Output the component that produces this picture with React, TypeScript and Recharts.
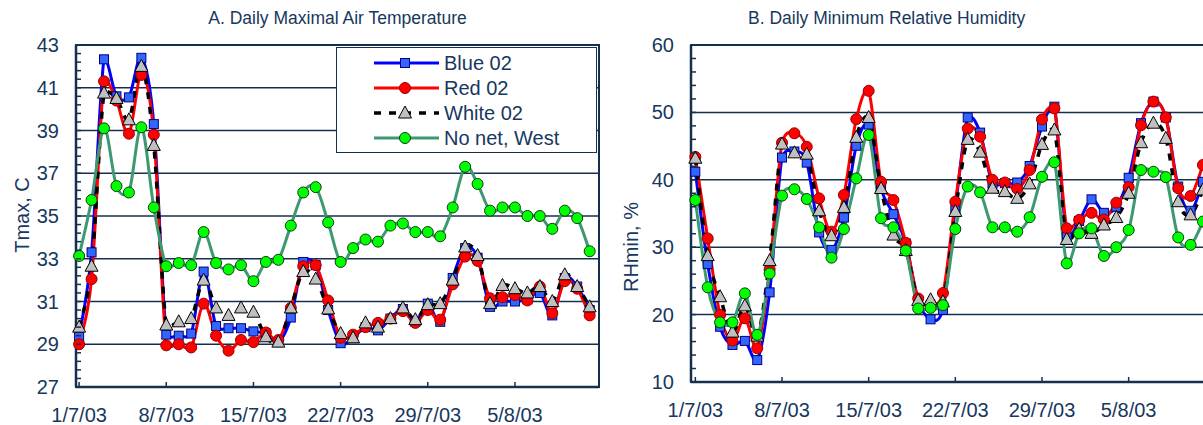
import React from "react";
import { CartesianGrid, Legend, Line, LineChart, ReferenceArea, XAxis, YAxis } from "recharts";

// days since 1 July 2003, one reading per day
const tickDays = [0, 7, 14, 21, 28, 35];
const tickLabels = ["1/7/03", "8/7/03", "15/7/03", "22/7/03", "29/7/03", "5/8/03"];

// A. daily maximal air temperature, C
const tmaxBlue = [29.35, 33.3, 42.33, 40.6, 40.55, 42.4, 39.3, 29.45, 29.4, 29.5, 32.4, 29.85, 29.75, 29.75, 29.6, 29.5, 29.1, 30.25, 32.85, 32.7, 30.6, 29.05, 29.3, 29.8, 29.65, 30.2, 30.65, 30.05, 30.9, 30.05, 32.1, 33.5, 33.05, 30.75, 31.0, 31.0, 31.1, 31.4, 30.35, 32.1, 31.7, 30.6];
const tmaxRed = [29.0, 32.05, 41.3, 40.4, 38.85, 41.6, 38.8, 28.95, 29.0, 28.85, 30.9, 29.4, 28.7, 29.2, 29.1, 29.55, 29.2, 30.7, 32.65, 32.7, 31.05, 29.3, 29.45, 29.8, 30.0, 30.2, 30.55, 30.0, 30.6, 30.15, 31.8, 33.1, 32.9, 31.15, 31.2, 31.3, 31.05, 31.7, 30.45, 31.95, 31.6, 30.35];
const tmaxWhite = [29.8, 32.65, 40.75, 40.5, 39.5, 42.0, 38.3, 29.9, 30.05, 30.2, 32.0, 30.7, 30.35, 30.7, 30.5, 29.35, 29.1, 30.7, 32.4, 32.05, 30.65, 29.5, 29.3, 30.0, 29.8, 30.2, 30.7, 30.15, 30.85, 30.9, 32.0, 33.55, 33.15, 30.9, 31.75, 31.6, 31.4, 31.7, 31.0, 32.25, 31.7, 30.75];
const tmaxNoNet = [33.13, 35.75, 39.1, 36.4, 36.1, 39.15, 35.4, 32.65, 32.8, 32.7, 34.25, 32.8, 32.5, 32.7, 31.95, 32.85, 32.95, 34.55, 36.1, 36.35, 34.7, 32.85, 33.5, 33.9, 33.8, 34.55, 34.65, 34.25, 34.25, 34.05, 35.4, 37.3, 36.5, 35.25, 35.4, 35.4, 35.0, 35.0, 34.4, 35.25, 34.9, 33.35];

// B. daily minimum relative humidity, %
const rhBlue = [41.2, 27.5, 18.2, 15.5, 16.1, 13.25, 23.3, 43.3, 44.2, 42.55, 32.2, 29.6, 34.4, 45.05, 48.2, 38.7, 34.9, 30.55, 22.15, 19.3, 20.7, 35.8, 49.25, 47.0, 39.4, 39.5, 39.6, 42.05, 47.9, 50.85, 31.5, 33.9, 37.1, 35.1, 36.0, 40.3, 48.4, 51.6, 49.25, 39.0, 35.4, 39.7];
const rhRed = [43.4, 31.3, 19.95, 16.15, 19.45, 15.0, 26.7, 45.5, 46.9, 44.9, 37.25, 32.3, 37.75, 49.0, 53.2, 39.7, 37.0, 30.65, 22.4, 21.6, 23.2, 36.75, 47.6, 46.4, 40.0, 39.6, 38.65, 41.45, 48.95, 50.6, 32.8, 34.05, 35.1, 34.1, 36.6, 38.9, 48.1, 51.6, 49.25, 38.75, 37.6, 42.2];
const rhWhite = [43.2, 28.75, 22.65, 17.4, 21.3, 16.8, 28.0, 45.3, 44.0, 43.8, 35.4, 31.7, 35.9, 46.3, 49.25, 38.7, 31.8, 29.5, 22.1, 22.2, 21.9, 35.3, 46.0, 44.1, 38.75, 38.25, 37.25, 39.4, 45.25, 47.4, 31.15, 32.65, 32.05, 33.3, 34.4, 38.0, 45.5, 48.4, 46.15, 36.75, 34.8, 38.5];
const rhNoNet = [37.0, 24.05, 18.85, 18.85, 23.15, 17.0, 26.1, 37.65, 38.6, 37.15, 32.95, 28.45, 32.7, 40.2, 46.65, 34.3, 32.95, 29.5, 20.9, 21.0, 21.4, 32.7, 39.0, 38.15, 32.95, 32.95, 32.3, 34.45, 40.45, 42.6, 27.6, 32.05, 32.8, 28.7, 30.0, 32.55, 41.45, 41.2, 40.4, 31.45, 30.35, 33.8];

const tmaxTicks = Array.from({ length: 41 }, (_, i) => Math.round((27 + i * 0.4) * 10) / 10);
const tmaxMajor = [27, 29, 31, 33, 35, 37, 39, 41, 43];
const rhTicks = Array.from({ length: 26 }, (_, i) => 10 + i * 2);
const rhMajor = [10, 20, 30, 40, 50, 60];

const NAVY = "#17375e";
const AXIS = "#14304f";
const FONT = "'Liberation Sans', Arial, sans-serif";

const tmaxData = tmaxBlue.map((v, i) => ({ day: i, blue: v, red: tmaxRed[i], white: tmaxWhite[i], nonet: tmaxNoNet[i] }));
const rhData = rhBlue.map((v, i) => ({ day: i, blue: v, red: rhRed[i], white: rhWhite[i], nonet: rhNoNet[i] }));

// Excel-like smoothed line (Catmull-Rom, control points kept near the segment)
const clamp = (v: number, a: number, b: number) => Math.max(Math.min(a, b) - 4, Math.min(Math.max(a, b) + 4, v));

const excelCurve: any = (context: any) => {
  let pts: number[][] = [];
  return {
    areaStart() {},
    areaEnd() {},
    lineStart() {
      pts = [];
    },
    point(x: number, y: number) {
      pts.push([+x, +y]);
    },
    lineEnd() {
      const n = pts.length;
      if (!n) return;
      context.moveTo(pts[0][0], pts[0][1]);
      for (let i = 0; i < n - 1; i++) {
        const p0 = pts[Math.max(i - 1, 0)];
        const p1 = pts[i];
        const p2 = pts[i + 1];
        const p3 = pts[Math.min(i + 2, n - 1)];
        context.bezierCurveTo(
          p1[0] + (p2[0] - p0[0]) / 6,
          clamp(p1[1] + (p2[1] - p0[1]) / 6, p1[1], p2[1]),
          p2[0] - (p3[0] - p1[0]) / 6,
          clamp(p2[1] - (p3[1] - p1[1]) / 6, p1[1], p2[1]),
          p2[0],
          p2[1]
        );
      }
    },
  };
};

type Marker = "square" | "circle" | "triangle" | "dot";

const drawMarker = (kind: Marker, cx: number, cy: number, key?: any) => {
  if (kind === "square")
    return <rect key={key} x={cx - 4.5} y={cy - 4.5} width={9} height={9} fill="#3366ff" stroke="#000080" strokeWidth={1} />;
  if (kind === "circle")
    return <circle key={key} cx={cx} cy={cy} r={5.5} fill="#ff0000" stroke="#990000" strokeWidth={1} />;
  if (kind === "triangle")
    return (
      <polygon
        key={key}
        points={`${cx},${cy - 7} ${cx - 6.5},${cy + 5} ${cx + 6.5},${cy + 5}`}
        fill="#c0c0c0"
        stroke="#000000"
        strokeWidth={1}
      />
    );
  return <circle key={key} cx={cx} cy={cy} r={5.5} fill="#00ff00" stroke="#0b3d0b" strokeWidth={1} />;
};

const series = [
  { key: "blue", name: "Blue 02", color: "#0000ff", width: 3, dash: undefined, marker: "square" as Marker },
  { key: "red", name: "Red 02", color: "#ff0000", width: 3, dash: undefined, marker: "circle" as Marker },
  { key: "white", name: "White 02", color: "#000000", width: 3.5, dash: "7 8", marker: "triangle" as Marker },
  { key: "nonet", name: "No net, West", color: "#3d9970", width: 3, dash: undefined, marker: "dot" as Marker },
];

const YTick = ({ x, y, payload, major }: any) => {
  const v = payload.value;
  const isMajor = major.some((m: number) => Math.abs(m - v) < 1e-6);
  return (
    <g>
      <line x1={x} x2={x + 5} y1={y} y2={y} stroke={AXIS} strokeWidth={1.5} />
      {isMajor && (
        <text x={x - 17} y={y} dy="0.35em" textAnchor="end" fill={NAVY} fontSize={20} fontFamily={FONT}>
          {v}
        </text>
      )}
    </g>
  );
};

const XTick = ({ x, y, payload }: any) => {
  const idx = tickDays.indexOf(payload.value);
  return (
    <g>
      <line x1={x} x2={x} y1={y} y2={y - 5} stroke={AXIS} strokeWidth={1.5} />
      <text x={x} y={y + 35} textAnchor="middle" fill={NAVY} fontSize={20} fontFamily={FONT}>
        {tickLabels[idx]}
      </text>
    </g>
  );
};

const LegendBox = () => (
  <div
    style={{
      width: 261,
      height: 106,
      boxSizing: "border-box",
      border: `1.5px solid ${AXIS}`,
      background: "#ffffff",
      position: "relative",
    }}
  >
    <svg width={258} height={103} style={{ position: "absolute", left: 0, top: 0 }}>
      {series.map((s, i) => {
        const cy = 15 + i * 25;
        return (
          <g key={s.key}>
            <line x1={37} x2={102} y1={cy} y2={cy} stroke={s.color} strokeWidth={s.width} strokeDasharray={s.dash} />
            {drawMarker(s.marker, 68, cy)}
            <text x={107} y={cy} dy="0.35em" fill={NAVY} fontSize={20} fontFamily={FONT}>
              {s.name}
            </text>
          </g>
        );
      })}
    </svg>
  </div>
);

const renderLines = () =>
  series.map((s) => (
    <Line
      key={s.key}
      dataKey={s.key}
      name={s.name}
      type={excelCurve}
      stroke={s.color}
      strokeWidth={s.width}
      strokeDasharray={s.dash}
      isAnimationActive={false}
      activeDot={false}
      dot={(p: any) => drawMarker(s.marker, p.cx, p.cy, `${s.key}-${p.index}`)}
    />
  ));

const titleStyle: React.CSSProperties = {
  position: "absolute",
  top: 7,
  lineHeight: "22px",
  textAlign: "center",
  color: NAVY,
  fontFamily: FONT,
  fontSize: 17.5,
  whiteSpace: "nowrap",
};

const axisTitleStyle: React.CSSProperties = {
  position: "absolute",
  width: 200,
  marginLeft: -100,
  marginTop: -12,
  lineHeight: "24px",
  textAlign: "center",
  color: NAVY,
  fontFamily: FONT,
  fontSize: 20,
  transform: "rotate(-90deg)",
  whiteSpace: "nowrap",
};

export default function App() {
  return (
    <div
      style={{
        position: "fixed",
        left: 0,
        top: 0,
        width: 1203,
        height: 425,
        overflow: "hidden",
        background: "#ffffff",
      }}
    >
      <div style={{ ...titleStyle, left: 76, width: 523 }}>A. Daily Maximal Air Temperature</div>
      <div style={{ ...titleStyle, left: 748, textAlign: "left" }}>B. Daily Minimum Relative Humidity</div>
      <div style={{ ...axisTitleStyle, left: 22, top: 215 }}>Tmax, C</div>
      <div style={{ ...axisTitleStyle, left: 631, top: 247 }}>RHmin, %</div>

      <div style={{ position: "absolute", left: 0, top: 0 }}>
        <LineChart width={610} height={425} data={tmaxData} margin={{ top: 45, right: 11, bottom: 0, left: 0 }}>
          <CartesianGrid vertical={false} horizontalValues={[29, 31, 33, 35, 37, 39, 41]} stroke={AXIS} strokeWidth={1.5} />
          <ReferenceArea x1={-0.25} x2={41.75} y1={27} y2={43} fill="none" stroke={AXIS} strokeWidth={2} />
          <XAxis
            dataKey="day"
            type="number"
            domain={[-0.25, 41.75]}
            ticks={tickDays}
            interval={0}
            height={38}
            tickSize={0}
            tickMargin={0}
            tickLine={false}
            axisLine={{ stroke: AXIS, strokeWidth: 2.5 }}
            tick={(p: any) => <XTick {...p} />}
          />
          <YAxis
            type="number"
            domain={[27, 43]}
            ticks={tmaxTicks}
            interval={0}
            width={76}
            tickSize={0}
            tickMargin={0}
            tickLine={false}
            axisLine={{ stroke: AXIS, strokeWidth: 2.5 }}
            tick={(p: any) => <YTick {...p} major={tmaxMajor} />}
          />
          <Legend
            layout="vertical"
            align="center"
            verticalAlign="middle"
            wrapperStyle={{ left: 336, top: 47, width: 261, height: 106 }}
            content={() => <LegendBox />}
          />
          {renderLines()}
        </LineChart>
      </div>

      <div style={{ position: "absolute", left: 615, top: 0 }}>
        <LineChart width={606} height={425} data={rhData} margin={{ top: 45, right: 10, bottom: 0, left: 0 }}>
          <CartesianGrid vertical={false} horizontalValues={[20, 30, 40, 50]} stroke={AXIS} strokeWidth={1.5} />
          <ReferenceArea x1={-0.35} x2={41.65} y1={10} y2={60} fill="none" stroke={AXIS} strokeWidth={2} />
          <XAxis
            dataKey="day"
            type="number"
            domain={[-0.35, 41.65]}
            ticks={tickDays}
            interval={0}
            height={43}
            tickSize={0}
            tickMargin={0}
            tickLine={false}
            axisLine={{ stroke: AXIS, strokeWidth: 2.5 }}
            tick={(p: any) => <XTick {...p} />}
          />
          <YAxis
            type="number"
            domain={[10, 60]}
            ticks={rhTicks}
            interval={0}
            width={76}
            tickSize={0}
            tickMargin={0}
            tickLine={false}
            axisLine={{ stroke: AXIS, strokeWidth: 2.5 }}
            tick={(p: any) => <YTick {...p} major={rhMajor} />}
          />
          {renderLines()}
        </LineChart>
      </div>
    </div>
  );
}
